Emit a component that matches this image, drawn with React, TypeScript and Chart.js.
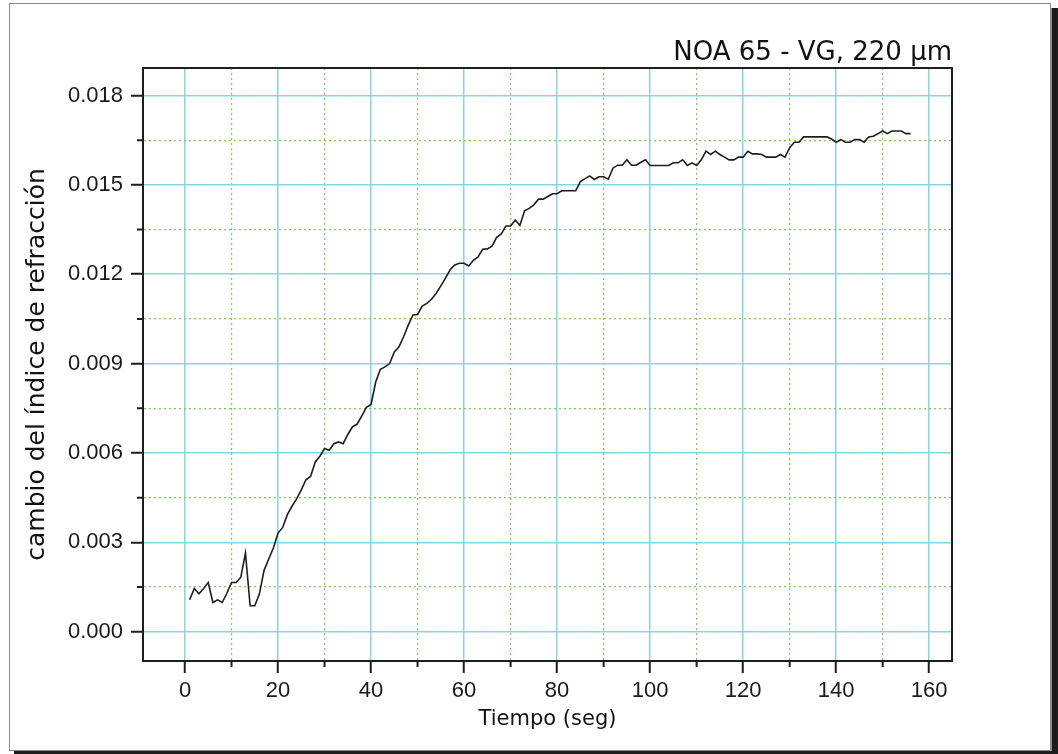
import React, { useEffect, useRef } from "react";
import { Chart, registerables } from "chart.js";

Chart.register(...registerables);

const titleText = "NOA 65 - VG, 220 \u03bcm";
const xTitle = "Tiempo (seg)";
const yTitle = "cambio del índice de refracción";

const timeSeconds: number[] = [
  1, 2, 3, 4, 5, 6, 7, 8, 9, 10, 11, 12, 13, 14, 15, 16, 17, 18, 19, 20,
  21, 22, 23, 24, 25, 26, 27, 28, 29, 30, 31, 32, 33, 34, 35, 36, 37, 38, 39, 40,
  41, 42, 43, 44, 45, 46, 47, 48, 49, 50, 51, 52, 53, 54, 55, 56, 57, 58, 59, 60,
  61, 62, 63, 64, 65, 66, 67, 68, 69, 70, 71, 72, 73, 74, 75, 76, 77, 78, 79, 80,
  81, 82, 83, 84, 85, 86, 87, 88, 89, 90, 91, 92, 93, 94, 95, 96, 97, 98, 99, 100,
  101, 102, 103, 104, 105, 106, 107, 108, 109, 110, 111, 112, 113, 114, 115, 116, 117, 118, 119, 120,
  121, 122, 123, 124, 125, 126, 127, 128, 129, 130, 131, 132, 133, 134, 135, 136, 137, 138, 139, 140,
  141, 142, 143, 144, 145, 146, 147, 148, 149, 150, 151, 152, 153, 154, 155, 156,
];

const indexChange: number[] = [
  0.00107, 0.00145, 0.00127, 0.00145, 0.00165, 0.00098, 0.00107, 0.00098, 0.00129, 0.00165,
  0.00165, 0.00183, 0.00264, 0.00087, 0.00087, 0.00127, 0.00206, 0.00244, 0.00281, 0.00331,
  0.0035, 0.00393, 0.00421, 0.00446, 0.00476, 0.0051, 0.00521, 0.0057, 0.00589, 0.00615,
  0.00609, 0.00631, 0.00637, 0.00631, 0.00662, 0.00688, 0.00697, 0.00724, 0.00753, 0.00763,
  0.00838, 0.00881, 0.00889, 0.009, 0.00939, 0.00956, 0.0099, 0.01029, 0.01063, 0.01065,
  0.01093, 0.01102, 0.01116, 0.01136, 0.01161, 0.01187, 0.01215, 0.01231, 0.01237, 0.01237,
  0.01228, 0.01247, 0.01258, 0.01284, 0.01285, 0.01294, 0.01324, 0.01335, 0.01362, 0.01362,
  0.01382, 0.01364, 0.01413, 0.01421, 0.01433, 0.01452, 0.01452, 0.01461, 0.0147, 0.0147,
  0.0148, 0.0148, 0.0148, 0.0148, 0.01511, 0.01521, 0.0153, 0.01518, 0.01527, 0.01527,
  0.01519, 0.01556, 0.01566, 0.01566, 0.01584, 0.01566, 0.01566, 0.01576, 0.01584, 0.01565,
  0.01565, 0.01565, 0.01565, 0.01565, 0.01574, 0.01574, 0.01584, 0.01565, 0.01574, 0.01565,
  0.01584, 0.01613, 0.01602, 0.01613, 0.01602, 0.01593, 0.01584, 0.01584, 0.01593, 0.01593,
  0.01613, 0.01604, 0.01604, 0.01602, 0.01593, 0.01593, 0.01593, 0.01602, 0.01593, 0.01625,
  0.01643, 0.01643, 0.01661, 0.01661, 0.01661, 0.01661, 0.01661, 0.01661, 0.01654, 0.01643,
  0.01652, 0.01643, 0.01643, 0.01652, 0.01652, 0.01643, 0.01661, 0.01663, 0.01672, 0.01681,
  0.01672, 0.01681, 0.01681, 0.01681, 0.01672, 0.01672,
];

// major ticks at even indices, minor at odd indices
const xTickValues: number[] = [0, 10, 20, 30, 40, 50, 60, 70, 80, 90, 100, 110, 120, 130, 140, 150, 160];
const yTickValues: number[] = [
  0, 0.0015, 0.003, 0.0045, 0.006, 0.0075, 0.009, 0.0105, 0.012, 0.0135, 0.015, 0.0165, 0.018,
];
const xRange: number[] = [-9.03, 164.9];
const yRange: number[] = [-0.000984, 0.018923];

const MAJOR = "#86d5e4";
const MINOR = "#79cc58";
const INK = "#1e1e1e";

const framePlugin = {
  id: "frame",
  beforeDraw(chart: any) {
    const ctx = chart.ctx;
    ctx.save();
    ctx.fillStyle = "#ffffff";
    ctx.fillRect(0, 0, chart.width, chart.height);
    ctx.strokeStyle = "#8a8a8a";
    ctx.lineWidth = 1;
    ctx.strokeRect(9.5, 3.5, 1041, 747);
    ctx.fillStyle = "#1c1c1c";
    ctx.fillRect(1051.5, 8, 7, 746);
    ctx.fillRect(14, 751, 1044, 3);
    ctx.restore();
  },
  afterDraw(chart: any) {
    const ctx = chart.ctx;
    const a = chart.chartArea;
    const xs = chart.scales.x;
    const ys = chart.scales.y;
    ctx.save();
    ctx.strokeStyle = INK;
    ctx.lineWidth = 2;
    ctx.beginPath();
    xs.ticks.forEach((t: any, i: number) => {
      if (i % 2 === 1) {
        const px = xs.getPixelForValue(t.value);
        ctx.moveTo(px, a.bottom);
        ctx.lineTo(px, a.bottom + 6);
      }
    });
    ys.ticks.forEach((t: any, i: number) => {
      if (i % 2 === 1) {
        const py = ys.getPixelForValue(t.value);
        ctx.moveTo(a.left, py);
        ctx.lineTo(a.left - 6, py);
      }
    });
    ctx.stroke();
    ctx.strokeRect(a.left, a.top, a.right - a.left, a.bottom - a.top);
    ctx.restore();
  },
};

export default function App() {
  const ref = useRef<HTMLCanvasElement | null>(null);

  useEffect(() => {
    if (!ref.current) return;
    const points = timeSeconds.map((t, i) => ({ x: t, y: indexChange[i] }));
    const chart = new Chart(ref.current, {
      type: "scatter",
      data: {
        datasets: [
          {
            data: points,
            showLine: true,
            borderColor: INK,
            borderWidth: 1.6,
            pointRadius: 0,
            fill: false,
            tension: 0,
          },
        ],
      },
      plugins: [framePlugin],
      options: {
        responsive: false,
        animation: false,
        devicePixelRatio: 1,
        layout: { padding: { left: 20, right: 106, top: 39.4, bottom: 20 } },
        plugins: {
          legend: { display: false },
          tooltip: { enabled: false },
          title: {
            display: true,
            text: titleText,
            align: "end",
            color: "#111",
            font: { family: "'DejaVu Sans', sans-serif", size: 26, weight: "normal", lineHeight: 1.1 },
            padding: { top: 0, bottom: 0 },
          },
        },
        scales: {
          x: {
            type: "linear",
            min: xRange[0],
            max: xRange[1],
            afterBuildTicks: (s: any) => {
              s.ticks = xTickValues.map((v) => ({ value: v }));
            },
            afterFit: (s: any) => {
              s.height = 73;
            },
            ticks: {
              autoSkip: false,
              maxRotation: 0,
              padding: 5,
              color: "#1a1a1a",
              font: { family: "'Liberation Sans', Arial, sans-serif", size: 22 },
              callback: (v: any, i: number) => (i % 2 === 0 ? String(xTickValues[i]) : ""),
            },
            grid: {
              color: (c: any) => (c.index % 2 === 0 ? MAJOR : MINOR),
              lineWidth: (c: any) => (c.index % 2 === 0 ? 1.5 : 1.2),
              tickLength: 12,
              tickWidth: 2,
              tickColor: (c: any) => (c.index % 2 === 0 ? INK : "rgba(0,0,0,0)"),
            },
            border: {
              display: true,
              color: INK,
              width: 2,
              dash: (c: any) => (c.index % 2 === 0 ? [] : [2, 3]),
            },
            title: {
              display: true,
              text: xTitle,
              color: "#111",
              font: { family: "'DejaVu Sans', sans-serif", size: 21, lineHeight: 1.2 },
              padding: { top: 0, bottom: 1.5 },
            },
          },
          y: {
            type: "linear",
            min: yRange[0],
            max: yRange[1],
            afterBuildTicks: (s: any) => {
              s.ticks = yTickValues.map((v) => ({ value: v }));
            },
            afterFit: (s: any) => {
              s.width = 123;
            },
            ticks: {
              autoSkip: false,
              padding: 8,
              color: "#1a1a1a",
              font: { family: "'Liberation Sans', Arial, sans-serif", size: 22 },
              callback: (v: any, i: number) => (i % 2 === 0 ? yTickValues[i].toFixed(3) : ""),
            },
            grid: {
              color: (c: any) => (c.index % 2 === 0 ? MAJOR : MINOR),
              lineWidth: (c: any) => (c.index % 2 === 0 ? 1.5 : 1.2),
              tickLength: 12,
              tickWidth: 2,
              tickColor: (c: any) => (c.index % 2 === 0 ? INK : "rgba(0,0,0,0)"),
            },
            border: {
              display: true,
              color: INK,
              width: 2,
              dash: (c: any) => (c.index % 2 === 0 ? [] : [2, 3]),
            },
            title: {
              display: true,
              text: yTitle,
              color: "#111",
              font: { family: "'DejaVu Sans', sans-serif", size: 25, lineHeight: 1.2 },
              padding: { top: 2, bottom: 0 },
            },
          },
        },
      },
    });
    return () => chart.destroy();
  }, []);

  return (
    <div style={{ position: "fixed", left: 0, top: 0, width: 1058, height: 754 }}>
      <canvas ref={ref} width={1058} height={754} style={{ display: "block" }} />
    </div>
  );
}
